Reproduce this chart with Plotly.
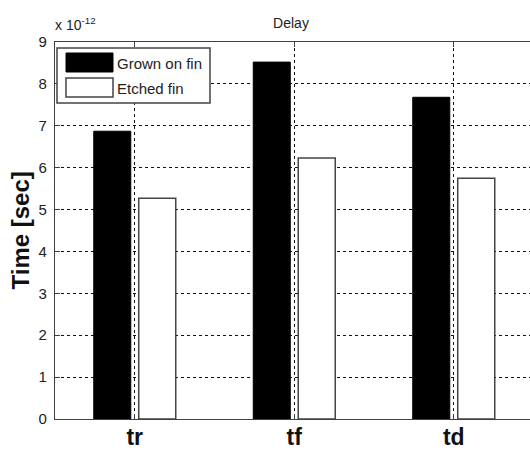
import plotly.graph_objects as go

# ---- data (values in units of 1e-12 s) ----
categories = ["tr", "tf", "td"]
series_names = ["Grown on fin", "Etched fin"]
grown_on_fin = [6.87, 8.52, 7.68]
etched_fin = [5.27, 6.23, 5.75]
y_ticks = [0, 1, 2, 3, 4, 5, 6, 7, 8, 9]
chart_title = "Delay"
y_title = "Time [sec]"
exponent_label = "x 10<sup>-12</sup>"

FONT = "Liberation Sans, Arial, sans-serif"
W, H = 530, 450
L, R, T, B = 55, 0, 42, 31
plot_w = W - L - R
plot_h = H - T - B
cat_px = 159.5  # pixel spacing between categories

fig = go.Figure()
fig.add_trace(go.Bar(
    x=categories, y=grown_on_fin, name=series_names[0],
    marker=dict(color="black", line=dict(color="black", width=1)),
    showlegend=False,
))
fig.add_trace(go.Bar(
    x=categories, y=etched_fin, name=series_names[1],
    marker=dict(color="white", line=dict(color="#444444", width=1.5)),
    showlegend=False,
))

def px_x(p):
    return (p - L) / plot_w

def px_y(p):
    return (H - B - p) / plot_h

shapes = [
    # legend box
    dict(type="rect", xref="paper", yref="paper", layer="above",
         x0=px_x(57), x1=px_x(210), y0=px_y(103), y1=px_y(48),
         fillcolor="white", line=dict(color="#444444", width=1.5)),
    dict(type="rect", xref="paper", yref="paper", layer="above",
         x0=px_x(66), x1=px_x(113), y0=px_y(72), y1=px_y(53),
         fillcolor="black", line=dict(color="black", width=1)),
    dict(type="rect", xref="paper", yref="paper", layer="above",
         x0=px_x(66), x1=px_x(113), y0=px_y(97), y1=px_y(78),
         fillcolor="white", line=dict(color="#444444", width=1.5)),
]

annotations = [
    dict(text=series_names[0], xref="paper", yref="paper", x=px_x(115), y=px_y(63),
         xanchor="left", yanchor="middle", showarrow=False,
         font=dict(family=FONT, size=15, color="#222222")),
    dict(text=series_names[1], xref="paper", yref="paper", x=px_x(115), y=px_y(88),
         xanchor="left", yanchor="middle", showarrow=False,
         font=dict(family=FONT, size=15, color="#222222")),
    dict(text=exponent_label, xref="paper", yref="paper", x=px_x(53), y=px_y(35),
         xanchor="left", yanchor="bottom", showarrow=False,
         font=dict(family=FONT, size=14, color="#222222")),
    dict(text="<b>" + y_title + "</b>", xref="paper", yref="paper",
         x=px_x(20), y=0.5, xanchor="center", yanchor="middle", textangle=-90,
         showarrow=False, font=dict(family=FONT, size=24, color="#111111")),
]

fig.update_layout(
    width=W, height=H,
    margin=dict(l=L, r=R, t=T, b=B, pad=0, autoexpand=False),
    paper_bgcolor="white", plot_bgcolor="white",
    barmode="group", bargap=0.436, bargroupgap=0.177,
    title=dict(text=chart_title, x=px_x(291), xref="paper", y=1 - 23 / H,
               yanchor="middle", xanchor="center",
               font=dict(family=FONT, size=14, color="#222222")),
    shapes=shapes, annotations=annotations,
    font=dict(family=FONT),
)

fig.update_xaxes(
    automargin=False,
    range=[-0.5, -0.5 + plot_w / cat_px],
    showgrid=True, gridcolor="#111111", gridwidth=1, griddash="3px,3px",
    showline=True, linecolor="#404040", linewidth=1.2, mirror="ticks",
    ticks="inside", ticklen=5, tickcolor="#404040",
    tickfont=dict(family=FONT, size=23, color="#111111"),
    tickprefix="<b>", ticksuffix="</b>",
    ticklabelstandoff=-3,
    zeroline=False,
)
fig.update_yaxes(
    automargin=False,
    range=[0, 9], tickvals=y_ticks,
    showgrid=True, gridcolor="#111111", gridwidth=1, griddash="3px,3px",
    showline=True, linecolor="#404040", linewidth=1.2,
    ticks="inside", ticklen=5, tickcolor="#404040",
    tickfont=dict(family=FONT, size=15, color="#222222"),
    ticklabelstandoff=4,
    zeroline=False,
)

fig.write_html(
    "out.html",
    config={"displayModeBar": False},
    post_script="document.body.style.margin='0';document.body.style.padding='0';",
)
